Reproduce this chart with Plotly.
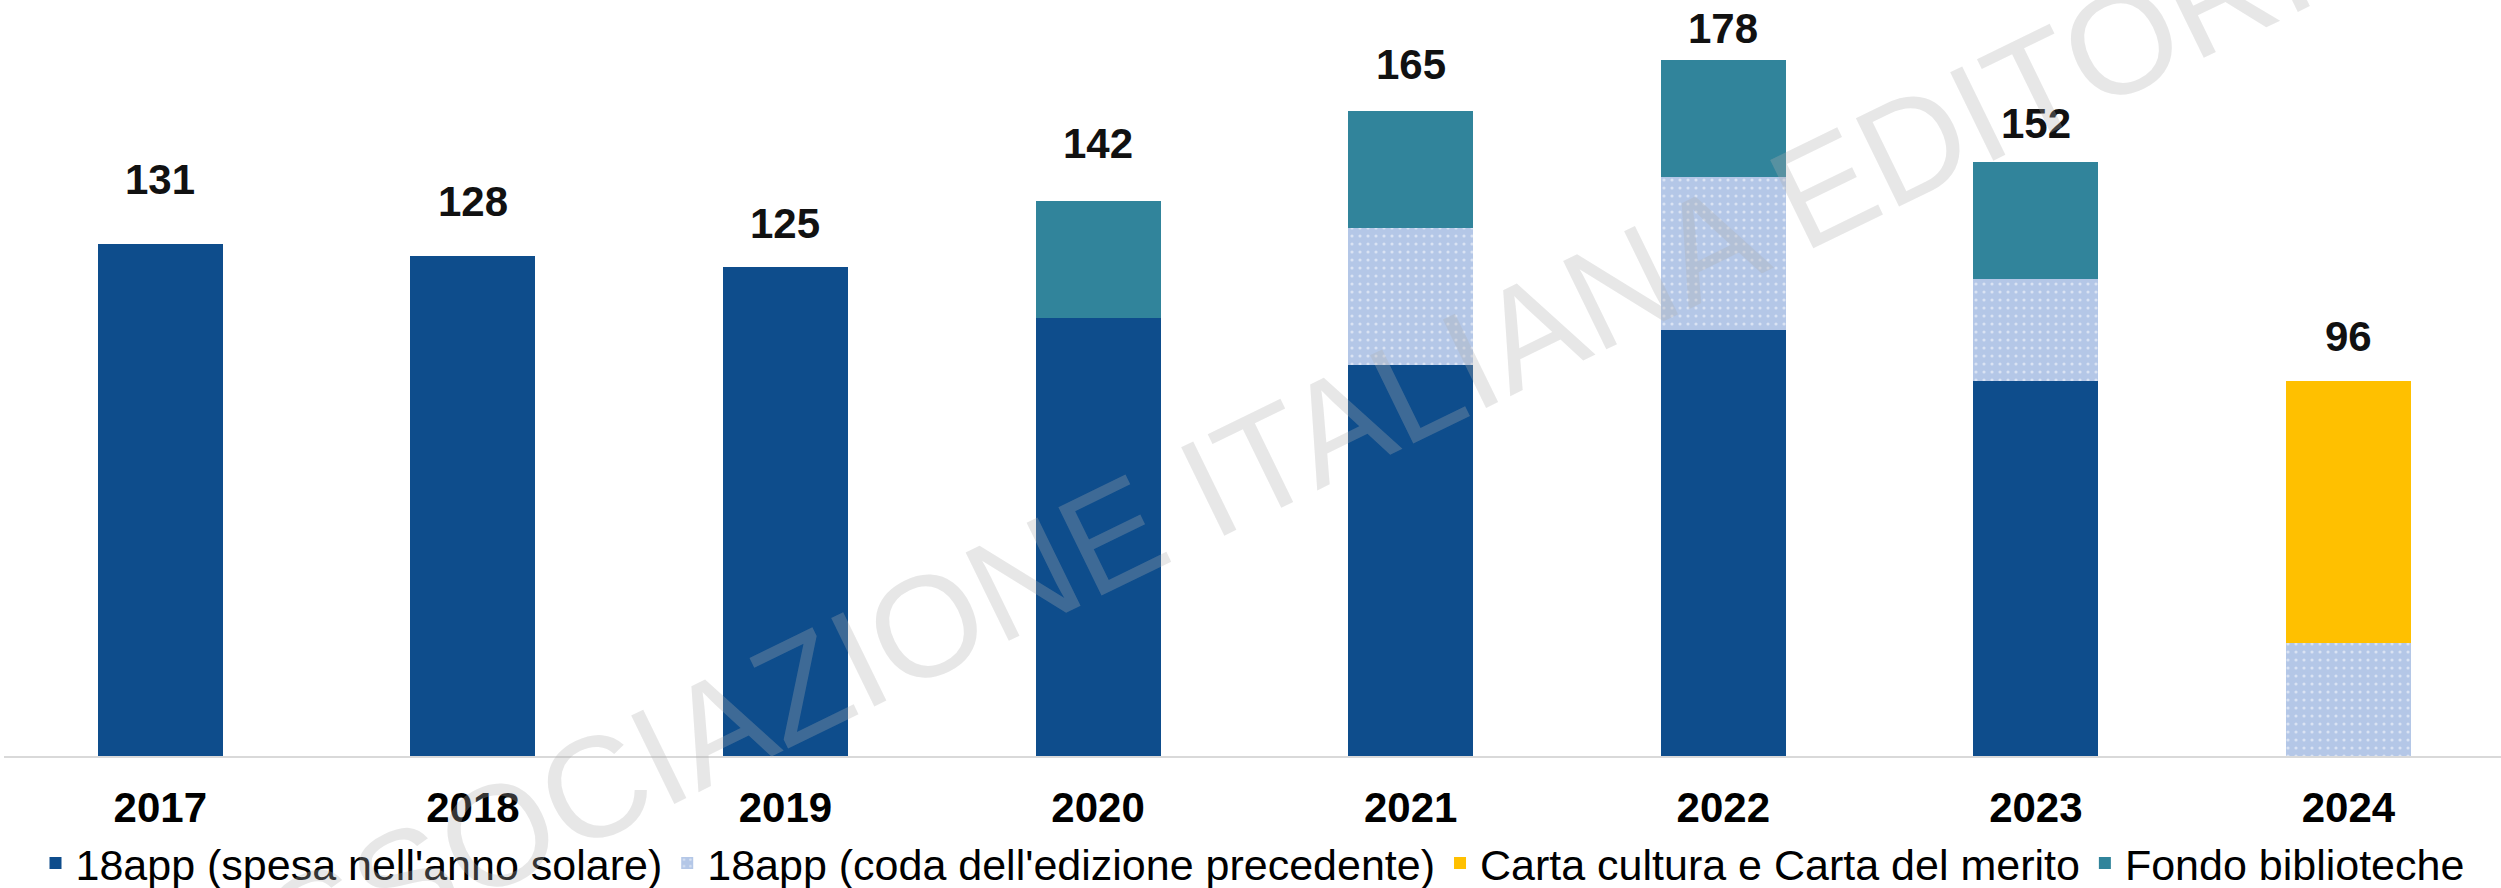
import plotly.graph_objects as go

# --- DATA ---
years = ["2017", "2018", "2019", "2020", "2021", "2022", "2023", "2024"]
spesa_anno = [131, 128, 125, 112, 100, 109, 96, 0]
coda_edizione = [0, 0, 0, 0, 35, 39, 26, 29]
carta_cultura = [0, 0, 0, 0, 0, 0, 0, 67]
fondo_biblioteche = [0, 0, 0, 30, 30, 30, 30, 0]

series_names = [
    "18app (spesa nell'anno solare)",
    "18app (coda dell'edizione precedente)",
    "Carta cultura e Carta del merito",
    "Fondo biblioteche",
]

totals = [a + b + c + d for a, b, c, d in
          zip(spesa_anno, coda_edizione, carta_cultura, fondo_biblioteche)]

# --- STYLE ---
FONT = "Arial, Liberation Sans, sans-serif"
DARK_BLUE = "#0E4D8C"
LIGHT_BLUE = "#B4C7E7"
YELLOW = "#FFC000"
TEAL = "#31849B"
# total labels were placed by hand in the original, so each has its own lift (px)
label_lift = [64, 54, 44, 57, 47, 32, 38, 44]

fig = go.Figure()
fig.add_trace(go.Bar(x=years, y=spesa_anno, name=series_names[0],
                     marker=dict(color=DARK_BLUE, line=dict(width=0))))
fig.add_trace(go.Bar(x=years, y=coda_edizione, name=series_names[1],
                     marker=dict(color=LIGHT_BLUE, line=dict(width=0),
                                 pattern=dict(shape=".", bgcolor=LIGHT_BLUE,
                                              fgcolor="white", size=8,
                                              solidity=0.12))))
fig.add_trace(go.Bar(x=years, y=carta_cultura, name=series_names[2],
                     marker=dict(color=YELLOW, line=dict(width=0))))
fig.add_trace(go.Bar(x=years, y=fondo_biblioteche, name=series_names[3],
                     marker=dict(color=TEAL, line=dict(width=0))))

# totals above bars (x given as category index)
for i, tot in enumerate(totals):
    fig.add_annotation(x=i, y=tot, text=f"<b>{tot}</b>", showarrow=False,
                       yshift=label_lift[i], yanchor="middle",
                       font=dict(family=FONT, size=42, color="#111111"))

# watermark
fig.add_annotation(xref="paper", yref="paper", x=0.497, y=0.378,
                   text="ASSOCIAZIONE ITALIANA EDITORI", showarrow=False,
                   textangle=-26,
                   font=dict(family=FONT, size=143, color="rgba(175,175,175,0.3)"))

fig.update_layout(
    width=2501, height=888,
    barmode="stack", bargap=0.6,
    plot_bgcolor="white", paper_bgcolor="white",
    margin=dict(l=4, r=0, t=0, b=132, autoexpand=False),
    font=dict(family=FONT, color="black"),
    legend=dict(orientation="h", x=0.5, xanchor="center", y=-0.1415,
                yanchor="middle", bgcolor="rgba(0,0,0,0)",
                font=dict(family=FONT, size=43, color="black"),
                traceorder="normal", itemclick=False),
    showlegend=True,
)
fig.update_xaxes(type="category", range=[-0.5, 7.488], showgrid=False,
                 showline=True, linecolor="#D9D9D9", linewidth=2,
                 ticks="", ticklabelstandoff=14,
                 tickfont=dict(family=FONT, size=42, color="black", weight="bold"))
fig.update_yaxes(range=[0, 193.4], showgrid=False, zeroline=False,
                 showticklabels=False, showline=False)

# drop the browser's default 8px page margin so the figure fills the window
fig.write_html("out.html", config={"displayModeBar": False},
               post_script="document.body.style.margin='0';")
